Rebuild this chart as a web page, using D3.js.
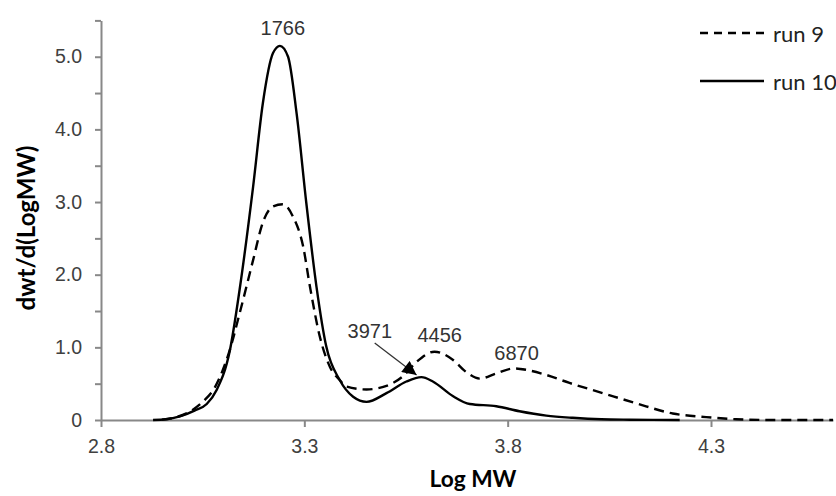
<!DOCTYPE html>
<html>
<head>
<meta charset="utf-8">
<script src="https://cdn.jsdelivr.net/npm/d3@7"></script>
<style>
  html, body { margin: 0; padding: 0; background: #fff; }
  svg { display: block; }
</style>
</head>
<body>
<script>
// Molecular weight distribution: dwt/d(LogMW) against Log MW for two runs
const run9LogMW = [2.95, 2.986, 3.02, 3.05, 3.08, 3.117, 3.141, 3.174, 3.198, 3.223, 3.247, 3.272, 3.297, 3.314, 3.338, 3.363, 3.387, 3.404, 3.453, 3.502, 3.542, 3.576, 3.62, 3.665, 3.698, 3.731, 3.772, 3.815, 3.846, 3.895, 3.952, 4.034, 4.116, 4.206, 4.288, 4.362, 4.45, 4.6];
const run9Value = [0.005, 0.04, 0.12, 0.25, 0.45, 0.97, 1.47, 2.2, 2.72, 2.94, 2.97, 2.80, 2.39, 1.83, 1.15, 0.73, 0.55, 0.46, 0.42, 0.47, 0.6, 0.80, 0.94, 0.83, 0.66, 0.57, 0.64, 0.71, 0.69, 0.62, 0.51, 0.37, 0.23, 0.09, 0.04, 0.01, 0, 0];

const run10LogMW = [2.928, 2.96, 2.994, 3.03, 3.06, 3.084, 3.117, 3.141, 3.174, 3.198, 3.223, 3.240, 3.26, 3.281, 3.305, 3.330, 3.354, 3.387, 3.42, 3.453, 3.502, 3.551, 3.588, 3.616, 3.665, 3.707, 3.772, 3.829, 3.895, 3.96, 4.03, 4.1, 4.223];
const run10Value = [0, 0.01, 0.05, 0.13, 0.22, 0.41, 0.96, 1.80, 3.21, 4.36, 5.05, 5.15, 5.0, 4.22, 2.98, 1.83, 1.01, 0.55, 0.32, 0.25, 0.37, 0.53, 0.59, 0.53, 0.33, 0.22, 0.19, 0.12, 0.06, 0.03, 0.01, 0.004, 0];

const xTicks = [2.8, 3.3, 3.8, 4.3];
const yTicks = [0, 0.5, 1, 1.5, 2, 2.5, 3, 3.5, 4, 4.5, 5, 5.5];

// Peak molecular weights with their label anchors (Log MW, dwt/d(LogMW))
const peakLabels = ["1766", "3971", "4456", "6870"];
const peakLabelX = [3.247, 3.461, 3.633, 3.822];
const peakLabelY = [5.3, 1.13, 1.08, 0.83];
// arrow from the 3971 label to its shoulder on run 10
const arrowFrom = [3.473, 1.06];
const arrowTo = [3.576, 0.62];

const seriesNames = ["run 9", "run 10"];

const W = 836, H = 496;
const margin = { left: 101, right: 3, top: 20.4, bottom: 76 };

const svg = d3.select("body").append("svg").attr("width", W).attr("height", H);
svg.append("rect").attr("width", W).attr("height", H).attr("fill", "#fff");

const x = d3.scaleLinear().domain([2.8, 4.6]).range([margin.left, W - margin.right]);
const y = d3.scaleLinear().domain([0, 5.5]).range([H - margin.bottom, margin.top]);

const axisColor = "#888";

// y axis with half-unit ticks, labels on whole units
const yAxis = svg.append("g")
  .attr("transform", `translate(${x(2.8)},0)`)
  .call(d3.axisLeft(y).tickValues(yTicks).tickSizeInner(6).tickSizeOuter(0).tickPadding(13)
    .tickFormat(d => d % 1 === 0 ? (d === 0 ? "0" : d.toFixed(1)) : ""));

const xAxis = svg.append("g")
  .attr("transform", `translate(0,${y(0)})`)
  .call(d3.axisBottom(x).tickValues(xTicks).tickSizeInner(7).tickSizeOuter(0).tickPadding(12)
    .tickFormat(d => d.toFixed(1)));

[xAxis, yAxis].forEach(g => {
  g.select(".domain").attr("stroke", axisColor).attr("stroke-width", 2);
  g.selectAll(".tick line").attr("stroke", axisColor).attr("stroke-width", 2);
  g.selectAll(".tick text")
    .attr("fill", "#404040")
    .style("font-family", "'Liberation Sans', Arial, sans-serif")
    .style("font-size", "19.5px");
});

// curves
const line = d3.line().x(d => x(d[0])).y(d => y(d[1])).curve(d3.curveMonotoneX);
const run9 = run9LogMW.map((v, i) => [v, run9Value[i]]);
const run10 = run10LogMW.map((v, i) => [v, run10Value[i]]);

svg.append("path").datum(run9).attr("d", line)
  .attr("fill", "none").attr("stroke", "#000").attr("stroke-width", 2.4)
  .attr("stroke-dasharray", "10,6");
svg.append("path").datum(run10).attr("d", line)
  .attr("fill", "none").attr("stroke", "#000").attr("stroke-width", 2.4);

// peak labels
svg.append("g").selectAll("text").data(peakLabels).join("text")
  .attr("x", (d, i) => x(peakLabelX[i]))
  .attr("y", (d, i) => y(peakLabelY[i]))
  .attr("text-anchor", "middle")
  .attr("fill", "#333")
  .style("font-family", "'Liberation Sans', Arial, sans-serif")
  .style("font-size", "20px")
  .text(d => d);

// arrow
svg.append("defs").append("marker")
  .attr("id", "arrowhead")
  .attr("viewBox", "0 0 10 10")
  .attr("refX", 10).attr("refY", 5)
  .attr("markerWidth", 15).attr("markerHeight", 14)
  .attr("markerUnits", "userSpaceOnUse")
  .attr("orient", "auto")
  .append("path").attr("d", "M0,0 L10,5 L0,10 Z").attr("fill", "#000");

svg.append("line")
  .attr("x1", x(arrowFrom[0])).attr("y1", y(arrowFrom[1]))
  .attr("x2", x(arrowTo[0])).attr("y2", y(arrowTo[1]))
  .attr("stroke", "#333").attr("stroke-width", 1.3)
  .attr("marker-end", "url(#arrowhead)");

// axis titles, sized to fill their slots
function fitText(sel, target) {
  const w = sel.node().getComputedTextLength();
  const fs = parseFloat(sel.style("font-size"));
  sel.style("font-size", (fs * target / w).toFixed(2) + "px");
}

const xTitle = svg.append("text")
  .attr("x", 473).attr("y", 487)
  .attr("text-anchor", "middle")
  .attr("fill", "#000")
  .style("font-family", "Lato, 'Open Sans', sans-serif")
  .style("font-weight", "bold")
  .style("font-size", "22px")
  .text("Log MW");
fitText(xTitle, 87);

const yTitle = svg.append("text")
  .attr("transform", "translate(35,228) rotate(-90)")
  .attr("text-anchor", "middle")
  .attr("fill", "#000")
  .style("font-family", "Lato, 'Open Sans', sans-serif")
  .style("font-weight", "bold")
  .style("font-size", "22px")
  .text("dwt/d(LogMW)");
fitText(yTitle, 165);

// legend
const legend = svg.append("g");
const legendY = [33, 81];
seriesNames.forEach((name, i) => {
  legend.append("line")
    .attr("x1", 700).attr("x2", 764)
    .attr("y1", legendY[i]).attr("y2", legendY[i])
    .attr("stroke", "#000").attr("stroke-width", 2.4)
    .attr("stroke-dasharray", i === 0 ? "8,6" : null);
  const t = legend.append("text")
    .attr("x", 773).attr("y", legendY[i] + 9)
    .attr("fill", "#222")
    .style("font-family", "Lato, 'Open Sans', sans-serif")
    .style("font-size", "22px")
    .text(name);
  if (i === 0) fitText(t, 51);
});
legend.selectAll("text").style("font-size", legend.select("text").style("font-size"));
</script>
</body>
</html>
